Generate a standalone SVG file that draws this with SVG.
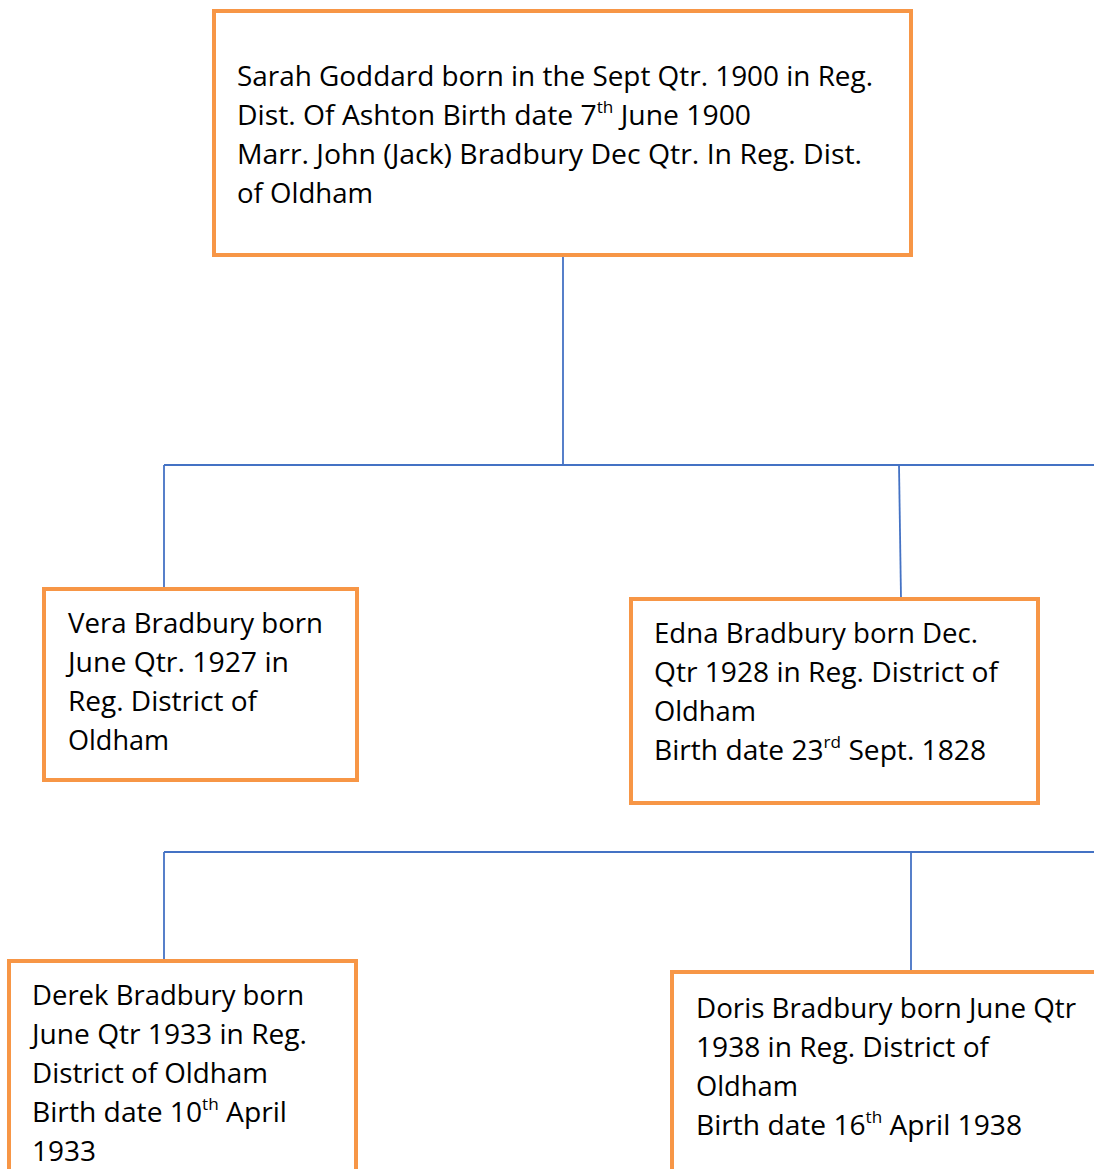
<svg xmlns="http://www.w3.org/2000/svg" width="1094" height="1169" viewBox="0 0 1094 1169">
<style>
.box{fill:#ffffff;stroke:#F79646;stroke-width:4}
.t{font-family:"Open Sans","Noto Sans","Liberation Sans",sans-serif;font-size:28px;fill:#000000}
.sup{font-size:17px}
.c{stroke:#4472C4;stroke-width:1.8;fill:none}
</style>
<rect width="1094" height="1169" fill="#ffffff"/>
<g id="connectors">
<line class="c" x1="563" y1="257" x2="563" y2="465"/>
<line class="c" x1="164" y1="465" x2="1094" y2="465"/>
<line class="c" x1="164" y1="465" x2="164" y2="588"/>
<line class="c" x1="899" y1="465" x2="901" y2="598"/>
<line class="c" x1="164" y1="852" x2="1094" y2="852"/>
<line class="c" x1="164" y1="852" x2="164" y2="960"/>
<line class="c" x1="911" y1="852" x2="911" y2="971"/>
</g>
<g id="sarah">
<rect class="box" x="214" y="11" width="697" height="244"/>
<text class="t" x="237" y="86" textLength="636" lengthAdjust="spacingAndGlyphs">Sarah Goddard born in the Sept Qtr. 1900 in Reg.</text>
<text class="t" x="237" y="125" textLength="514" lengthAdjust="spacingAndGlyphs">Dist. Of Ashton Birth date 7<tspan class="sup" dy="-12">th</tspan><tspan dy="12"> June 1900</tspan></text>
<text class="t" x="237" y="164" textLength="625" lengthAdjust="spacingAndGlyphs">Marr. John (Jack) Bradbury Dec Qtr. In Reg. Dist.</text>
<text class="t" x="237" y="203" textLength="136" lengthAdjust="spacingAndGlyphs">of Oldham</text>
</g>
<g id="vera">
<rect class="box" x="44" y="589" width="313" height="191"/>
<text class="t" x="68" y="633" textLength="255" lengthAdjust="spacingAndGlyphs">Vera Bradbury born</text>
<text class="t" x="68" y="672" textLength="221" lengthAdjust="spacingAndGlyphs">June Qtr. 1927 in</text>
<text class="t" x="68" y="711" textLength="189" lengthAdjust="spacingAndGlyphs">Reg. District of</text>
<text class="t" x="68" y="750" textLength="101" lengthAdjust="spacingAndGlyphs">Oldham</text>
</g>
<g id="edna">
<rect class="box" x="631" y="599" width="407" height="204"/>
<text class="t" x="654" y="643" textLength="324" lengthAdjust="spacingAndGlyphs">Edna Bradbury born Dec.</text>
<text class="t" x="654" y="682" textLength="344" lengthAdjust="spacingAndGlyphs">Qtr 1928 in Reg. District of</text>
<text class="t" x="654" y="721" textLength="102" lengthAdjust="spacingAndGlyphs">Oldham</text>
<text class="t" x="654" y="760" textLength="332" lengthAdjust="spacingAndGlyphs">Birth date 23<tspan class="sup" dy="-12">rd</tspan><tspan dy="12"> Sept. 1828</tspan></text>
</g>
<g id="derek">
<rect class="box" x="9" y="961" width="347" height="240"/>
<text class="t" x="32" y="1005" textLength="272" lengthAdjust="spacingAndGlyphs">Derek Bradbury born</text>
<text class="t" x="32" y="1044" textLength="275" lengthAdjust="spacingAndGlyphs">June Qtr 1933 in Reg.</text>
<text class="t" x="32" y="1083" textLength="236" lengthAdjust="spacingAndGlyphs">District of Oldham</text>
<text class="t" x="32" y="1122" textLength="255" lengthAdjust="spacingAndGlyphs">Birth date 10<tspan class="sup" dy="-12">th</tspan><tspan dy="12"> April</tspan></text>
<text class="t" x="32" y="1161" textLength="64" lengthAdjust="spacingAndGlyphs">1933</text>
</g>
<g id="doris">
<rect class="box" x="672" y="972" width="460" height="240"/>
<text class="t" x="696" y="1018" textLength="380" lengthAdjust="spacingAndGlyphs">Doris Bradbury born June Qtr</text>
<text class="t" x="696" y="1057" textLength="293" lengthAdjust="spacingAndGlyphs">1938 in Reg. District of</text>
<text class="t" x="696" y="1096" textLength="102" lengthAdjust="spacingAndGlyphs">Oldham</text>
<text class="t" x="696" y="1135" textLength="326" lengthAdjust="spacingAndGlyphs">Birth date 16<tspan class="sup" dy="-12">th</tspan><tspan dy="12"> April 1938</tspan></text>
</g>
</svg>
